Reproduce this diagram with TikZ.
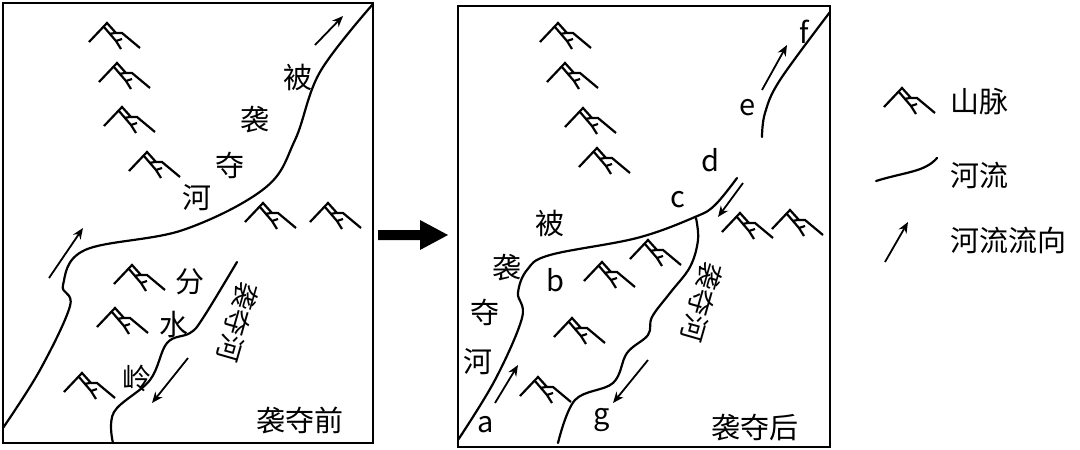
\documentclass[tikz,border=0pt]{standalone}
\usepackage{fontspec}
\setmainfont{Noto Sans CJK SC}
\usetikzlibrary{arrows.meta}
\tikzset{
  riv/.style={line width=2.2pt,line cap=round},
  flow/.style={line width=1.8pt,-{Stealth[length=11pt,width=9pt]}},
  lbl/.style={font=\fontsize{29}{32}\selectfont,inner sep=0pt},
  rlbl/.style={font=\fontsize{27}{30}\selectfont,inner sep=0pt,rotate=-106},
  frame/.style={line width=2.2pt},
  mtn/.pic={
    \draw[line width=2.2pt] (-18,19) -- (0,0) -- (9,10) -- (15,10) -- (33,25);
    \draw[line width=2.2pt] (-3,4) -- (9,18) -- (14,26);
    \draw[line width=2.2pt] (2,11) -- (8,10);
    \draw[line width=2.2pt] (9,18) -- (15,16);
  }
}
\begin{document}
\begin{tikzpicture}[x=1pt,y=-1pt]
\useasboundingbox (0,0) rectangle (1080,450);
\draw[frame] (3,3) rectangle (373,443);
\draw[frame] (458,6) rectangle (830,447);
\fill (378,230) -- (420,230) -- (420,220) -- (448,235) -- (420,250) -- (420,240) -- (378,240) -- cycle;
\foreach \p in {(107,23),(117,63),(122,107),(147,152),(263,203),(328,203),(132,265),(115,308),(82,373)}
  \pic at \p {mtn};
\draw[riv] plot[smooth,tension=0.6] coordinates {(3,428) (40,370) (70,306) (63,285) (85,250) (183,230) (265,188) (295,140) (320,72) (373,4)};
\draw[riv] plot[smooth,tension=0.6] coordinates {(113,443) (114,412) (150,380) (167,343) (190,333) (203,318) (237,262)};
\coordinate (l1s) at (49,278); \coordinate (l1e) at (83,228);
\coordinate (l2s) at (315,45); \coordinate (l2e) at (343,16);
\coordinate (l3s) at (188,358); \coordinate (l3e) at (152,403);
\draw[flow] (l1s) -- (l1e);
\draw[flow] (l2s) -- (l2e);
\draw[flow] (l3s) -- (l3e);
\node[lbl] (t1) at (298,77) {被};
\node[lbl] (t2) at (255,120) {袭};
\node[lbl] (t3) at (230,165) {夺};
\node[lbl] (t4) at (197,198) {河};
\node[lbl] (t5) at (190,282) {分};
\node[lbl] (t6) at (174,325) {水};
\node[lbl] (t7) at (137,378) {岭};
\node[rlbl] (t8) at (238,322) {袭夺河};
\node[lbl] (t9) at (300,420) {袭夺前};
\foreach \p in {(558,23),(565,63),(583,108),(597,148),(648,240),(602,262),(572,318),(538,377),(740,213),(790,210)}
  \pic at \p {mtn};
\draw[riv] plot[smooth,tension=0.6] coordinates {(458,440) (495,380) (522,318) (518,293) (527,270) (550,255) (637,238) (695,217) (715,205) (737,178)};
\draw[riv] plot[smooth,tension=0.6] coordinates {(696,218) (698,240) (690,267) (670,293) (652,317) (648,335) (627,353) (613,383) (575,400) (558,443)};
\draw[riv] plot[smooth,tension=0.6] coordinates {(762,137) (765,113) (780,80) (830,12)};
\coordinate (r1s) at (762,90); \coordinate (r1e) at (787,45);
\coordinate (r2s) at (743,183); \coordinate (r2e) at (718,217);
\coordinate (r3s) at (495,403); \coordinate (r3e) at (518,365);
\coordinate (r4s) at (648,360); \coordinate (r4e) at (613,403);
\draw[flow] (r1s) -- (r1e);
\draw[flow] (r2s) -- (r2e);
\draw[flow] (r3s) -- (r3e);
\draw[flow] (r4s) -- (r4e);
\node[lbl] (f) at (804,32) {f};
\node[lbl] (e) at (748,108) {e};
\node[lbl] (d) at (710,160) {d};
\node[lbl] (c) at (678,200) {c};
\node[lbl] (u1) at (550,223) {被};
\node[lbl] (u2) at (507,268) {袭};
\node[lbl] (b) at (555,280) {b};
\node[lbl] (u3) at (485,312) {夺};
\node[lbl] (u4) at (478,362) {河};
\node[lbl] (a) at (486,425) {a};
\node[lbl] (g) at (602,420) {g};
\node[rlbl] (u5) at (702,302) {袭夺河};
\node[lbl] (u6) at (755,428) {袭夺后};
\pic at (902,88) {mtn};
\node[lbl,anchor=west] (k1) at (950,102) {山脉};
\coordinate (lr1) at (876,181); \coordinate (lr2) at (937,158);
\draw[riv] (lr1) .. controls (905,172) and (925,172) .. (lr2);
\node[lbl,anchor=west] (k2) at (950,175) {河流};
\coordinate (la1) at (885,262); \coordinate (la2) at (908,222);
\draw[flow] (la1) -- (la2);
\node[lbl,anchor=west] (k3) at (950,240) {河流流向};
\end{tikzpicture}
\end{document}
